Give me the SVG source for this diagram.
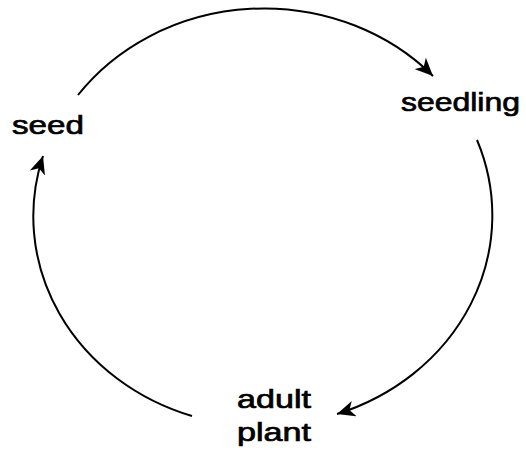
<svg xmlns="http://www.w3.org/2000/svg" width="526" height="453" viewBox="0 0 526 453">
<style>
.lbl{font-family:"Liberation Sans",Arial,sans-serif;font-size:26px;fill:#000;stroke:#000;stroke-width:0.7;}
.arc{fill:none;stroke:#000;stroke-width:2;}
</style>
<defs>
<marker id="ah" markerUnits="userSpaceOnUse" markerWidth="20" markerHeight="16" refX="18" refY="8" orient="auto">
<path d="M0,0 L18,8 L0,16 L5,8 Z" fill="#000"/>
</marker>
</defs>
<rect width="526" height="453" fill="#fff"/>
<g id="connectors">
<path class="arc" d="M 78 95 A 230 210 0 0 1 433 76" marker-end="url(#ah)"/>
<path class="arc" d="M 477 140 A 230 210 0 0 1 337 414" marker-end="url(#ah)"/>
<path class="arc" d="M 192 416 A 230 210 0 0 1 43 156" marker-end="url(#ah)"/>
</g>
<g id="seed"><text class="lbl" x="12" y="134" textLength="72" lengthAdjust="spacingAndGlyphs">seed</text></g>
<g id="seedling"><text class="lbl" x="401" y="111" textLength="119" lengthAdjust="spacingAndGlyphs">seedling</text></g>
<g id="adult-plant">
<text class="lbl" x="237" y="408" textLength="74" lengthAdjust="spacingAndGlyphs">adult</text>
<text class="lbl" x="237" y="441" textLength="74" lengthAdjust="spacingAndGlyphs">plant</text>
</g>
</svg>
